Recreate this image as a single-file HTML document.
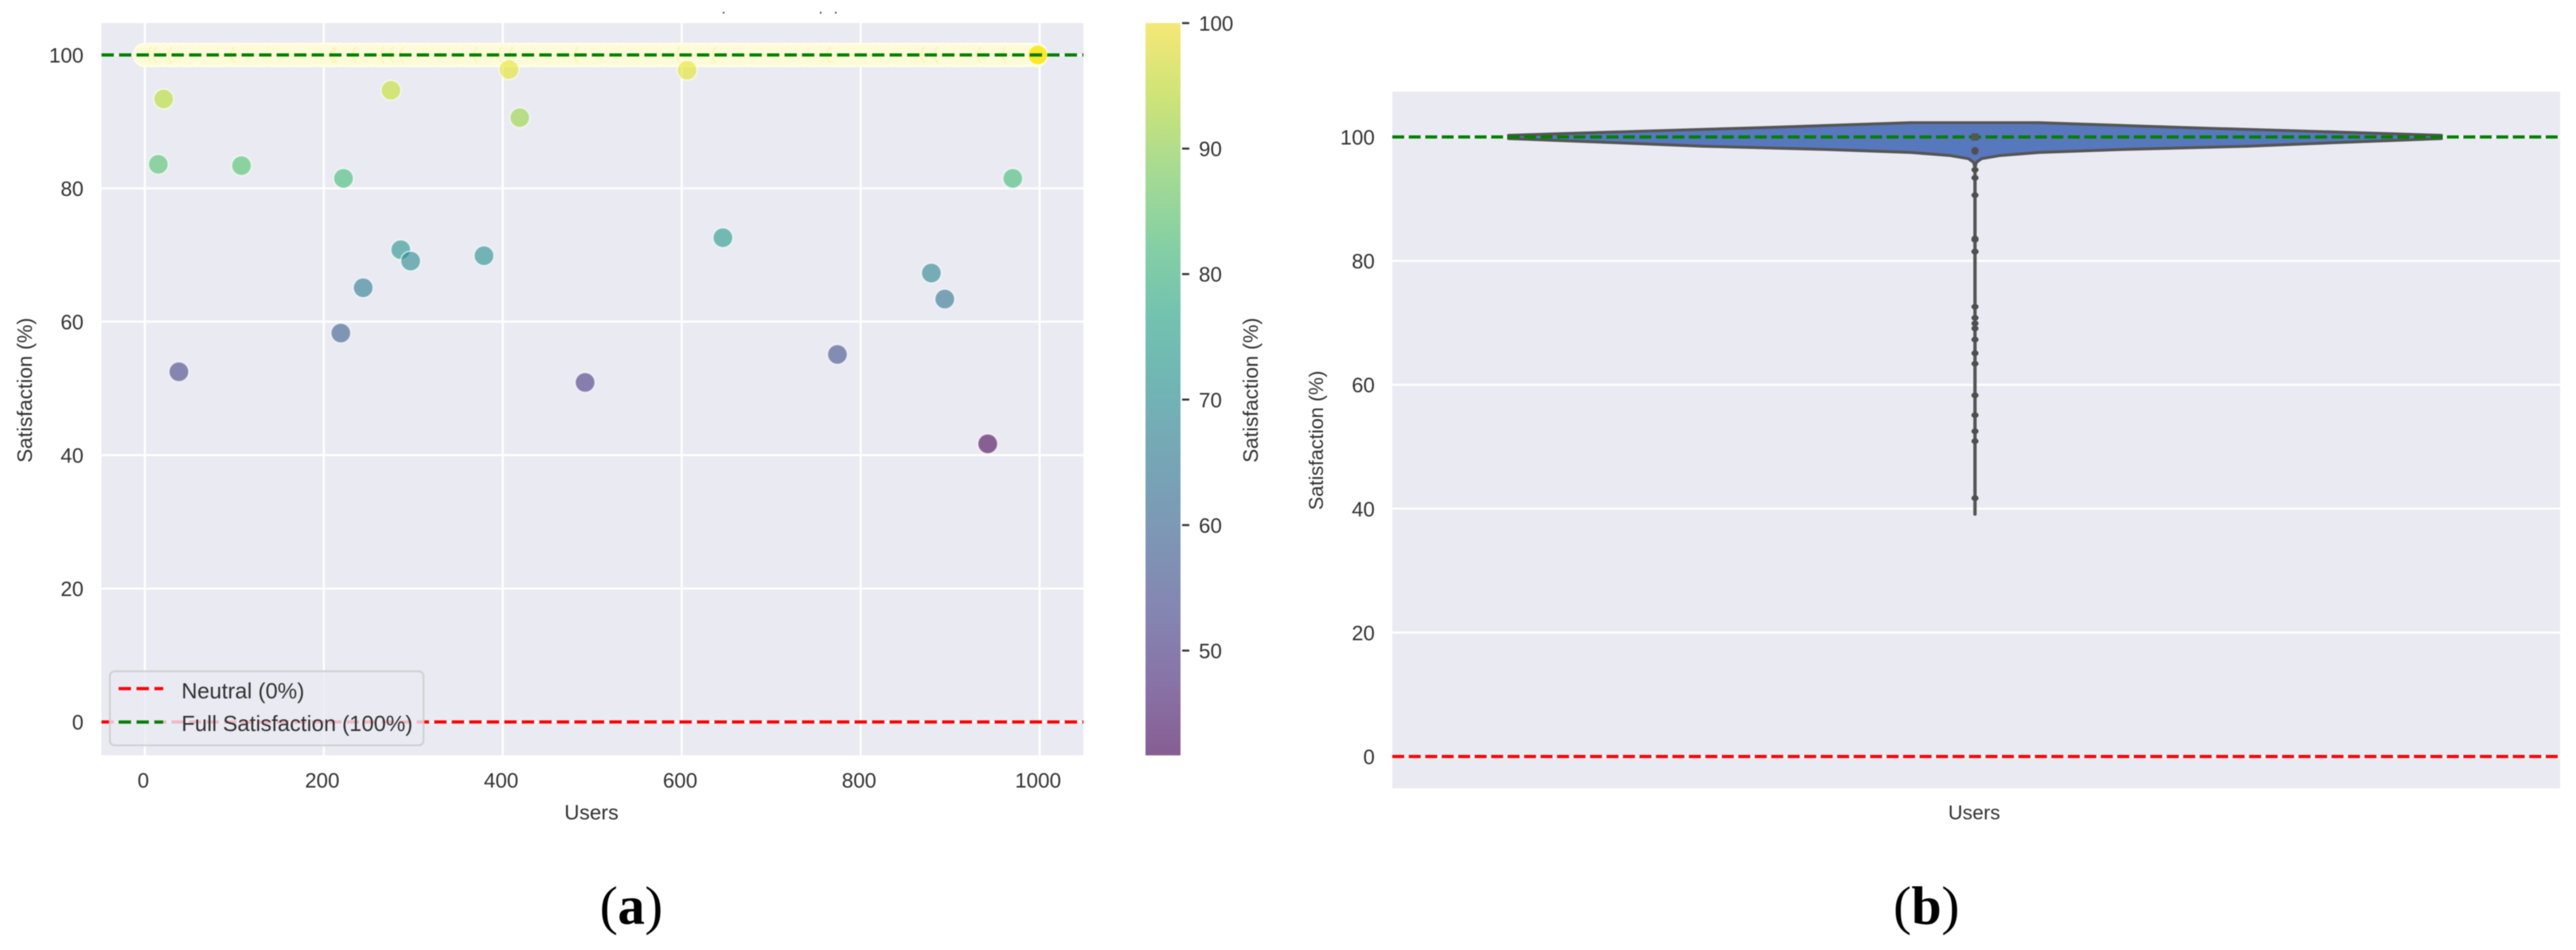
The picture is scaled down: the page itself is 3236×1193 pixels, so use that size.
<!DOCTYPE html>
<html>
<head>
<meta charset="utf-8">
<style>
html,body{margin:0;padding:0;background:#fff;width:3236px;height:1193px;overflow:hidden}
svg{display:block;filter:blur(0.6px)}
text{font-family:"Liberation Sans",Arial,sans-serif;fill:#333}
.cap{font-family:"Liberation Serif",serif;fill:#000;font-size:68px}
</style>
</head>
<body>
<svg id="chart" xmlns="http://www.w3.org/2000/svg" width="3236" height="1193" viewBox="0 0 3236 1193">
  <defs>
    <linearGradient id="cbar-grad" x1="0" y1="1" x2="0" y2="0"></linearGradient>
    <clipPath id="clip-a"><rect x="127.5" y="29" width="1233.5" height="919.6"></rect></clipPath>
  </defs>
  <rect x="127.5" y="29" width="1233.5" height="919.6" fill="#eaeaf2"></rect>
  <g id="grid-a"></g>
  <g id="band" clip-path="url(#clip-a)"></g>
  <g id="points" clip-path="url(#clip-a)"></g>
  <g id="lines-a"></g>
  <g id="ticks-a"></g>
  <text x="743" y="1029" font-size="26" text-anchor="middle">Users</text>
  <text transform="translate(40,490) rotate(-90)" font-size="26" text-anchor="middle">Satisfaction (%)</text>

  <g>
    <rect x="138" y="843" width="394" height="93" rx="6" fill="#eaeaf2" fill-opacity="0.8" stroke="#cccccc" stroke-opacity="0.8" stroke-width="2.5"></rect>
    <line x1="149" y1="864.7" x2="205" y2="864.7" stroke="#ff0000" stroke-width="4" stroke-dasharray="15.5 7"></line>
    <text x="228" y="877" font-size="27.5">Neutral (0%)</text>
    <line x1="149" y1="906.7" x2="205" y2="906.7" stroke="#008000" stroke-width="4" stroke-dasharray="15.5 7"></line>
    <text x="228" y="918" font-size="27.5">Full Satisfaction (100%)</text>
  </g>

  <g fill="#444">
    <rect x="908" y="15" width="2" height="2"></rect>
    <rect x="1030" y="15" width="2" height="2"></rect>
    <rect x="1049" y="15" width="2" height="2"></rect>
  </g>

  <rect x="1439" y="29" width="44" height="919.6" fill="#eaeaf2"></rect>
  <rect x="1439" y="29" width="44" height="919.6" fill="url(#cbar-grad)"></rect>
  <g id="cbar-ticks"></g>
  <text transform="translate(1580,490) rotate(-90)" font-size="26" text-anchor="middle">Satisfaction (%)</text>

  <text class="cap" x="793" y="1160" text-anchor="middle">(<tspan font-weight="bold">a</tspan>)</text>

  <rect x="1749" y="115" width="1467" height="875" fill="#eaeaf2"></rect>
  <g id="grid-b"></g>
  <g id="violin"></g>
  <g id="ticks-b"></g>
  <text x="2480" y="1029" font-size="25" text-anchor="middle">Users</text>
  <text transform="translate(1662,553) rotate(-90)" font-size="25" text-anchor="middle">Satisfaction (%)</text>
  <text class="cap" x="2420" y="1160" text-anchor="middle">(<tspan font-weight="bold">b</tspan>)</text>
</svg>
<script>
// ---- data ----
const users = [15,21,38,108,219,222,244,275,286,297,379,407,419,492,606,646,774,879,894,970,998,942];
const satisfaction = [83.6,93.4,52.5,83.4,58.3,81.5,65.1,94.7,70.8,69.1,69.9,97.8,90.6,50.9,97.7,72.6,55.1,67.3,63.4,81.5,100,41.7];
const saturatedUsers = [0,7,14,22,29,36,43,50,57,64,71,78,85,92,99,106,113,120,127,134,141,148,155,162,169,176,183,190,197,204,211,218,226,233,240,247,254,261,268,275,282,289,296,303,310,317,324,331,338,345,352,359,366,373,380,387,394,401,408,415,422,429,436,443,450,457,464,471,478,485,492,499,506,513,520,527,534,541,548,555,562,569,576,583,590,597,604,611,618,625,632,639,646,653,660,667,674,681,688,695,702,709,716,723,730,737,744,751,758,765,772,779,786,793,800,807,814,821,828,835,842,849,856,863,870,877,884,891,898,905,912,919,926,933,940,947,954,961,968,975,982,989,996];
const scatterXTicks = [0,200,400,600,800,1000];
const scatterYTicks = [0,20,40,60,80,100];
const colorbarTicks = [50,60,70,80,90,100];
const violinYTicks = [0,20,40,60,80,100];
const referenceLevels = [0,100];
const violinLevels = [102.3,101.5,100.9,100.26,99.74,99.0,98.5,98.0,97.5,97.0,96.5,95.9,95.1,39.1];
const violinDensity = [0.137,0.457,0.729,1.0,1.0,0.744,0.582,0.326,0.138,0.053,0.014,0.003,0.0005,0.0005];
const violinMedian = [100];

// ---- axis functions ----
const xA = v => 182 + v * 1.124;
const yA = v => 906.6 - v * 8.376;
const yC = v => 29 + (100 - v) * 15.76;
const yB = v => 950 - v * 7.78;
const wB = d => d * 586;
const xB = 2481;
const vmin = 41.7, vmax = 100;

const NS = 'http://www.w3.org/2000/svg';
function mk(parent, tag, props, text){
  const e = document.createElementNS(NS, tag);
  for (const k in props) e.setAttribute(k, props[k]);
  if (text !== undefined) e.textContent = text;
  document.getElementById(parent).appendChild(e);
  return e;
}
const viridisStops = [[68,1,84],[72,36,117],[65,68,135],[53,95,141],[42,120,142],[33,145,140],[34,168,132],[68,191,112],[122,209,81],[189,223,38],[253,231,37]];
function viridis(t){
  t = Math.max(0, Math.min(1, t));
  const p = t * 10, i = Math.min(9, Math.floor(p)), f = p - i;
  const a = viridisStops[i], b = viridisStops[i + 1];
  return 'rgb(' + [0,1,2].map(j => Math.round(a[j] + (b[j] - a[j]) * f)).join(',') + ')';
}

// colorbar gradient
viridisStops.forEach((_, i) => {
  const s = mk('cbar-grad', 'stop', {offset: (i * 10) + '%', 'stop-color': viridis(i / 10), 'stop-opacity': 0.6});
  
  
});

// scatter grid and ticks
scatterXTicks.forEach(v => {
  const g = mk('grid-a', 'line', {x1: xA(v), x2: xA(v), y1: 29, y2: 948.6, stroke: '#fff', 'stroke-width': 2.5});
  
  
  const t = mk('ticks-a', 'text', {x: xA(v) - 2, y: 989, 'font-size': 26, 'text-anchor': 'middle'}, String(v));
  
  
});
scatterYTicks.forEach(v => {
  const g = mk('grid-a', 'line', {x1: 127.5, x2: 1361, y1: yA(v), y2: yA(v), stroke: '#fff', 'stroke-width': 2.5});
  
  
  const t = mk('ticks-a', 'text', {x: 105, y: yA(v) + 9.5, 'font-size': 26, 'text-anchor': 'end'}, String(v));
  
  
});

// saturated users: two passes so the pale rim sits beneath the cream core
saturatedUsers.forEach(u => {
  const c = mk('band', 'circle', {cx: xA(u), cy: yA(100), r: 15.5, fill: '#fefee8'});
  
  
});
saturatedUsers.forEach(u => {
  const c = mk('band', 'circle', {cx: xA(u), cy: yA(100), r: 13, fill: '#fffbd9'});
  
  
});
// crescents left in the band where a user is missing from the 100% row
users.forEach((u, i) => {
  if (satisfaction[i] >= 100) return;
  const cx = xA(u), cy = yA(100), r = 13, a = 0.85;
  const dx = r * Math.cos(a), dy = r * Math.sin(a);
  const arc = mk('band', 'path', {d: 'M' + (cx - dx) + ',' + (cy - dy) + 'A' + r + ',' + r + ' 0 0 0 ' + (cx - dx) + ',' + (cy + dy), fill: 'none', stroke: '#fdf5bb', 'stroke-width': 2.5});
  
  
});

// scatter points
users.forEach((u, i) => {
  const v = satisfaction[i];
  const c = mk('points', 'circle', {cx: xA(u), cy: yA(v), r: 12.5, fill: viridis((v - vmin) / (vmax - vmin)), 'fill-opacity': v >= 100 ? 0.97 : 0.6, stroke: '#fff', 'stroke-opacity': 0.6, 'stroke-width': 2});
  
  
});

// reference lines
referenceLevels.forEach(v => {
  const l = mk('lines-a', 'line', {x1: 127.5, x2: 1361, y1: yA(v), y2: yA(v), stroke: v === 0 ? '#ff0000' : '#008000', 'stroke-width': 4, 'stroke-dasharray': '15.5 6.5'});
  
  
});

// colorbar ticks
colorbarTicks.forEach(v => {
  const l = mk('cbar-ticks', 'line', {x1: 1485, x2: 1494, y1: yC(v), y2: yC(v), stroke: '#333', 'stroke-width': 2.5});
  
  
  const t = mk('cbar-ticks', 'text', {x: 1506, y: yC(v) + 9.5, 'font-size': 26}, String(v));
  
  
});

// violin plot
violinYTicks.forEach(v => {
  const g = mk('grid-b', 'line', {x1: 1749, x2: 3216, y1: yB(v), y2: yB(v), stroke: '#fff', 'stroke-width': 2.5});
  
  
  const t = mk('ticks-b', 'text', {x: 1727, y: yB(v) + 9.5, 'font-size': 26, 'text-anchor': 'end'}, String(v));
  
  
});
const rightSide = violinLevels.map((v, i) => (xB + wB(violinDensity[i])) + ',' + yB(v));
const leftSide = violinLevels.map((v, i) => (xB - wB(violinDensity[i])) + ',' + yB(v)).reverse();
const body = mk('violin', 'polygon', {points: rightSide.concat(leftSide).join(' '), fill: '#5778bc', stroke: '#555555', 'stroke-width': 3.6, 'stroke-linejoin': 'round'});


referenceLevels.forEach(v => {
  const l = mk('violin', 'line', {x1: 1749, x2: 3216, y1: yB(v), y2: yB(v), stroke: v === 0 ? '#ff0000' : '#008000', 'stroke-width': 4, 'stroke-dasharray': '15 5.7'});
  
  
});
satisfaction.filter(v => v < 100).forEach(v => {
  const e = mk('violin', 'ellipse', {cx: xB, cy: yB(v), rx: 4.5, ry: v > 95 ? 4.5 : 3.6, fill: '#4f4f4f'});
  
  
});
violinMedian.forEach(v => {
  const r = mk('violin', 'rect', {x: xB - 4.5, y: yB(v) - 4.5, width: 9, height: 9, fill: '#555555'});
  
  
});
</script>
</body>
</html>
